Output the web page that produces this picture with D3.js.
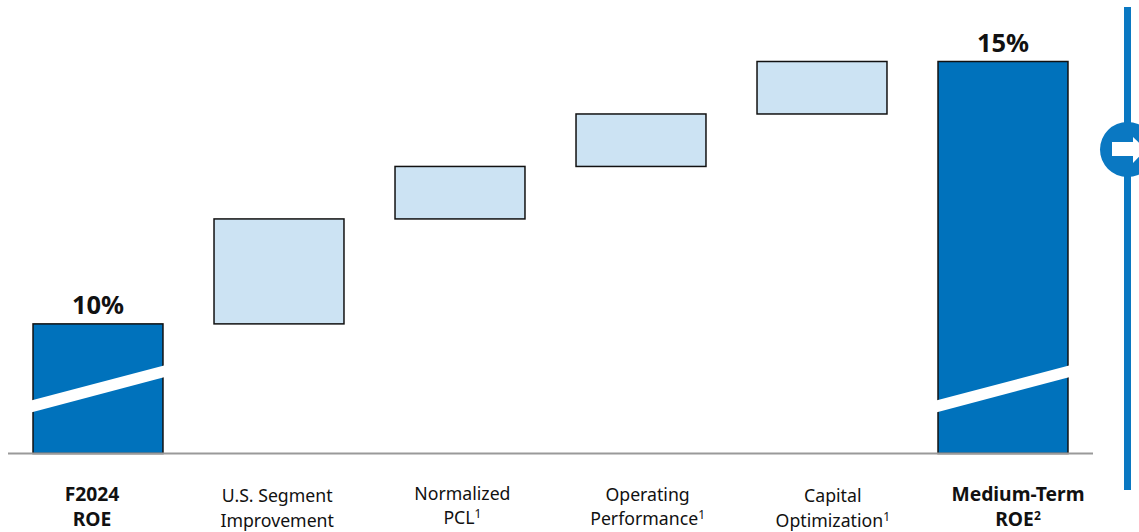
<!DOCTYPE html>
<html><head><meta charset="utf-8">
<script src="https://cdn.jsdelivr.net/npm/d3@7"></script>
<style>html,body{margin:0;padding:0;background:#fff;overflow:hidden}svg{display:block}text{font-family:"Noto Sans",sans-serif;fill:#111}</style>
</head><body><svg id="c" width="1139" height="532"></svg>
<script>
const categories=["F2024 ROE","U.S. Segment Improvement","Normalized PCL","Operating Performance","Capital Optimization","Medium-Term ROE"];
const labelLine1=["F2024","U.S. Segment","Normalized","Operating","Capital","Medium-Term"];
const labelLine2=["ROE","Improvement","PCL","Performance","Optimization","ROE"];
const labelNotes=["","","1","1","1","2"];
const barStart=[7.53,10,12,13,14,7.53];
const barEnd=[10,12,13,14,15,15];
const totals=[true,false,false,false,false,true];
const valueLabels=["10%","","","","","15%"];
const breakTop=[8.54,9.21];
const breakBottom=[8.31,8.99];

const svg=d3.select("#c");
const x=d3.scaleBand().domain(categories).range([7.5,1093.5]).paddingInner(0.282).paddingOuter(0.141);
const xLabel=d3.scalePoint().domain(categories).range([92,1018]);
const y=d3.scaleLinear().domain([7.53,15]).range([453.5,61.5]);
const rows=categories.map((c,i)=>({c,i,s:barStart[i],e:barEnd[i],t:totals[i]}));

svg.append("g").selectAll("rect").data(rows).join("rect")
 .attr("x",d=>x(d.c)).attr("width",x.bandwidth())
 .attr("y",d=>y(d.e)).attr("height",d=>y(d.s)-y(d.e))
 .attr("fill",d=>d.t?"#0072bc":"#cce3f3").attr("stroke","#111").attr("stroke-width",1.5);

const bandArea=d3.area().x(d=>d.x).y0(d=>y(d.top)).y1(d=>y(d.bot));
rows.filter(d=>d.t).forEach(d=>{
 const l=x(d.c)-2,r=x(d.c)+x.bandwidth()+2;
 svg.append("path").attr("fill","#fff").attr("d",bandArea([
  {x:l,top:breakTop[0],bot:breakBottom[0]},{x:r,top:breakTop[1],bot:breakBottom[1]}]));
});

svg.append("line").attr("x1",8).attr("x2",1093).attr("y1",y(7.53)).attr("y2",y(7.53)).attr("stroke","#9a9a9a").attr("stroke-width",2);

svg.append("g").selectAll("text").data(rows.filter(d=>valueLabels[d.i])).join("text")
 .attr("x",d=>x(d.c)+x.bandwidth()/2).attr("y",d=>y(d.e)-10).attr("text-anchor","middle")
 .attr("font-size",25.5).attr("font-weight",700).text(d=>valueLabels[d.i]);

const firstY=[501,502,500,501,501.5,501],secondY=[526,526.5,524,525,526.5,526];
const lab=svg.append("g").selectAll("g").data(rows).join("g").attr("text-anchor","middle")
 .attr("font-size",d=>d.t?19.3:17.7).attr("font-weight",d=>d.t?700:400);
lab.append("text").attr("x",d=>xLabel(d.c)).attr("y",d=>firstY[d.i]).text(d=>labelLine1[d.i]);
const t2=lab.append("text").attr("x",d=>xLabel(d.c)).attr("y",d=>secondY[d.i]).text(d=>labelLine2[d.i]);
t2.filter(d=>labelNotes[d.i]).append("tspan").attr("dy",-6).attr("font-size",12).text(d=>labelNotes[d.i]);

const blue="#0a78c2";
svg.append("rect").attr("x",1124).attr("y",7).attr("width",7).attr("height",483).attr("fill",blue);
svg.append("circle").attr("cx",1127.5).attr("cy",149.5).attr("r",27.5).attr("fill",blue);
svg.append("path").attr("fill","#fff").attr("d",d3.line()([[1112,142],[1133,142],[1133,137],[1146,149.5],[1133,163],[1133,156],[1112,156]])+"Z");
</script></body></html>
